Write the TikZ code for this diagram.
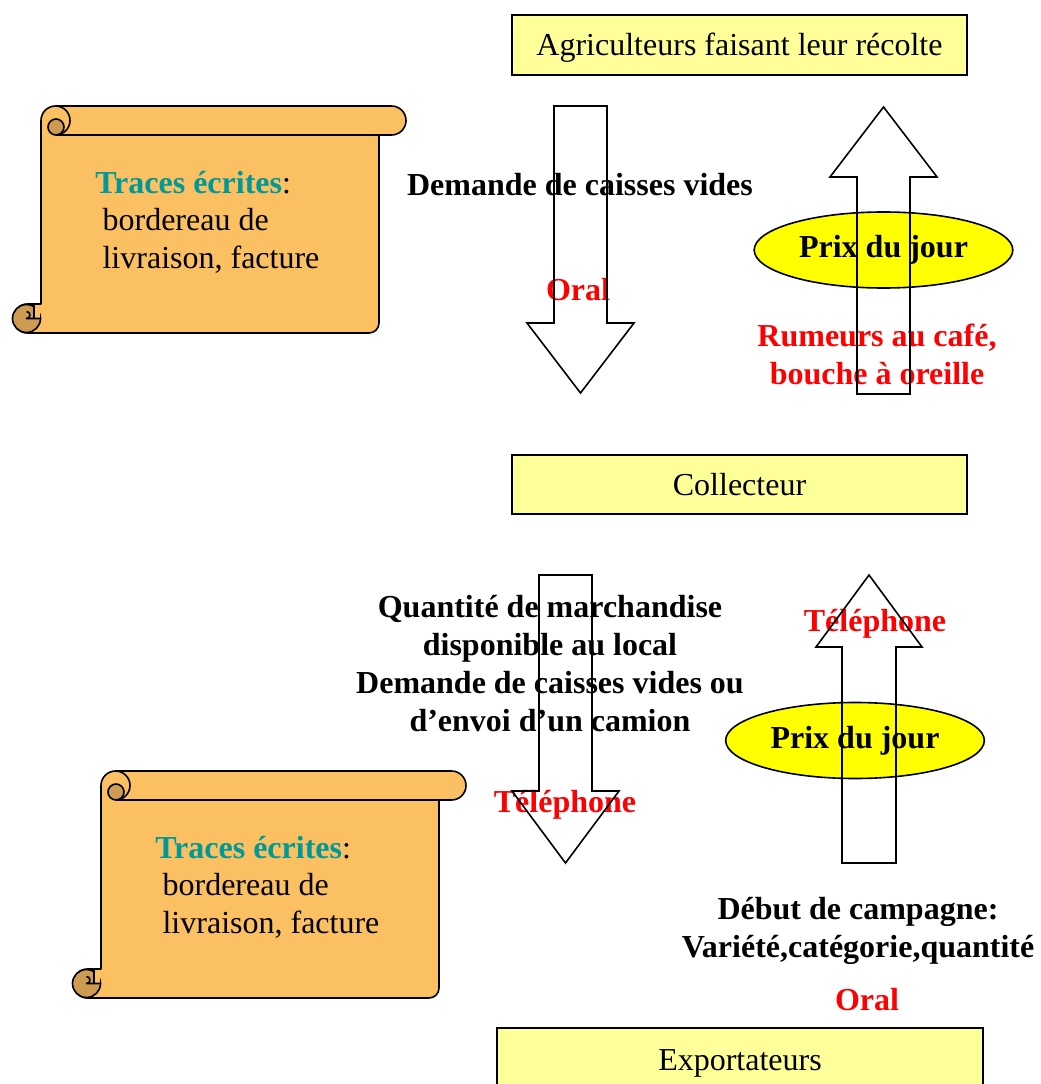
\documentclass[tikz,border=0pt]{standalone}
\usepackage{fontspec}
\setmainfont{Liberation Serif}
\usetikzlibrary{shapes.geometric}

\definecolor{boxyellow}{RGB}{255,255,153}
\definecolor{ovalyellow}{RGB}{255,255,0}
\definecolor{parch}{RGB}{250,192,97}
\definecolor{parchdark}{RGB}{205,155,82}
\definecolor{tracecol}{RGB}{0,153,153}

% Scroll drawn in local coordinates (pixel-like units, y pointing down)
\newcommand{\parchment}{%
  \filldraw[scrollline, fill=parch]
    (41,120.5) arc[start angle=180,end angle=270,radius=14.5]
    -- (391.5,106) arc[start angle=-90,end angle=90,radius=14.5]
    -- (379,135) -- (379,323) arc[start angle=0,end angle=90,radius=10]
    -- (27.5,333) arc[start angle=90,end angle=270,radius=14.5]
    -- (41,304) -- cycle;
  % upper roll
  \draw[scrollline] (56,135) -- (379,135);
  \filldraw[scrollline, fill=parchdark] (56,127) circle[radius=8];
  \draw[scrollline] (55.5,106) arc[start angle=-90,end angle=90,radius=14.5];
  % lower roll
  \filldraw[scrollline, fill=parchdark] (26.5,318.5) circle[radius=14];
  \fill[parch] (34,305.2) rectangle (40.2,318.5);
  \draw[scrollline] (34,304.5) -- (34,318.5);
  \draw[scrollline] (26.5,311.5) arc[start angle=-90,end angle=90,radius=3.5] -- (41,318.5);
}

\begin{document}
\begin{tikzpicture}[x=0.75pt,y=-0.75pt,
  every node/.style={font=\fontsize{24}{28.5}\selectfont, inner sep=0pt},
  actor/.style={draw, line width=1.5pt, fill=boxyellow, minimum width=341.25pt, minimum height=45pt,
    text height=16pt, text depth=0pt},
  oval/.style={ellipse, draw, line width=1.2pt, fill=ovalyellow, minimum width=194pt, minimum height=57pt, font=\fontsize{24}{28.5}\selectfont\bfseries},
  msg/.style={align=center, font=\fontsize{24}{28.5}\selectfont\bfseries},
  channel/.style={align=center, text=red, font=\fontsize{24}{28.5}\selectfont\bfseries},
  blockarrow/.style={draw, line width=1.2pt, line join=miter},
  scrollline/.style={line width=1.2pt, line join=round},
  tracetext/.style={align=left, anchor=north west}]

\useasboundingbox (0,0) rectangle (1040,1084);
\clip (0,0) rectangle (1040,1084);

% actors
\node[actor] (farmers) at (739.5,45) {Agriculteurs faisant leur récolte};
\node[actor, minimum height=44.25pt] (collector) at (739.5,484.5) {Collecteur};
\node[actor, minimum width=364.5pt, minimum height=48pt] (exporters) at (740,1060) {Exportateurs};

% written records
\parchment
\begin{scope}[shift={(60,665)}]
  \parchment
\end{scope}
\node[tracetext] (trace1) at (95,171) {\textcolor{tracecol}{\bfseries Traces écrites}:\\[-0.5pt]
  \hspace*{5.5pt}bordereau de\\[-0.5pt]
  \hspace*{5.5pt}livraison, facture};
\node[tracetext] (trace2) at (155,836) {\textcolor{tracecol}{\bfseries Traces écrites}:\\[-0.5pt]
  \hspace*{5.5pt}bordereau de\\[-0.5pt]
  \hspace*{5.5pt}livraison, facture};

% price ovals
\node[oval] (price1) at (883.5,250) {Prix du jour};
\node[oval] (price2) at (855,740.5) {Prix du jour};

% messages between farmers and collector
\node[msg] (ask1) at (580,185) {Demande de caisses vides};
\node[channel] (oral1) at (578,290) {Oral};
\node[channel] (rumour) at (877,354) {Rumeurs au café,\\bouche à oreille};

% messages between collector and exporters
\node[msg] (ask2) at (550,664) {Quantité de marchandise\\disponible au local\\Demande de caisses vides ou\\d’envoi d’un camion};
\node[channel] (phone1) at (565,805) {Téléphone};
\node[channel] (phone2) at (875,624) {Téléphone};
\node[msg] (season) at (858,931) {Début de campagne:\\Variété,catégorie,quantité};
\node[channel] (oral2) at (867,1000) {Oral};

% block arrows
\draw[blockarrow] (554,106) -- (607,106) -- (607,323) -- (634,323) -- (580.5,393)
  -- (527,323) -- (554,323) -- cycle;
\draw[blockarrow] (883.5,107) -- (937,177) -- (910,177) -- (910,394) -- (857,394)
  -- (857,177) -- (830,177) -- cycle;
\draw[blockarrow] (539,575) -- (592,575) -- (592,791) -- (619,791) -- (565.5,863)
  -- (512,791) -- (539,791) -- cycle;
\draw[blockarrow] (869,575) -- (922,647) -- (896,647) -- (896,863) -- (842,863)
  -- (842,647) -- (816,647) -- cycle;

\end{tikzpicture}
\end{document}
